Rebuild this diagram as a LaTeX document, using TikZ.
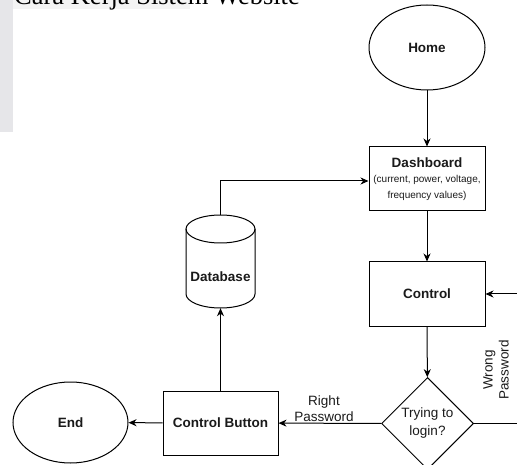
\documentclass[tikz,border=0pt]{standalone}
\usepackage{fontspec}
\setmainfont{Liberation Sans}
\newfontfamily\titlefont{Liberation Serif}
\usetikzlibrary{shapes.geometric,arrows.meta}
\definecolor{barGray}{HTML}{E6E6E9}
\definecolor{bandGray}{HTML}{F4F4F4}
\definecolor{txt}{HTML}{1A1A1A}
\begin{document}
\begin{tikzpicture}[x=1pt,y=-1pt,
  conn/.style={line width=1pt, -{Stealth[length=8pt,width=7pt,inset=2.5pt]}},
  plain/.style={line width=1pt},
  box/.style={draw, line width=1pt, rectangle, minimum width=116pt, minimum height=64pt, inner sep=0pt, align=center, text=txt, font=\bfseries\fontsize{13.5}{16}\selectfont},
  oval/.style={draw, line width=1pt, ellipse, minimum width=116pt, minimum height=85pt, inner sep=0pt, text=txt, font=\bfseries\fontsize{13.5}{16}\selectfont},
  lbl/.style={font=\fontsize{13.5}{16}\selectfont, text=txt, align=center, inner sep=0pt},
]
\useasboundingbox (0,0) rectangle (517,465);
\clip (0,0) rectangle (517,465);
\fill[barGray] (0,0) rectangle (13,132);
\fill[bandGray] (13,0) rectangle (190,9);
\node[anchor=base west, inner sep=0pt, font=\titlefont\fontsize{26.5}{30}\selectfont] (title) at (14,5) {Cara Kerja Sistem Website};

\node[oval] (home) at (427,47.5) {Home};
\node[box] (dash) at (427,179) {Dashboard\\[-1pt]\mdseries\fontsize{10}{17.5}\selectfont (current, power, voltage,\\\mdseries\fontsize{10}{17.5}\selectfont frequency values)};
\node[box] (ctrl) at (427,294) {Control};
\node[draw, diamond, line width=1pt, minimum width=92pt, minimum height=92pt, inner sep=0pt, lbl, font=\fontsize{13.5}{18}\selectfont] (login) at (427.5,423.5) {Trying to\\login?};
\node[box, minimum width=115pt] (cbtn) at (220.5,423) {Control Button};
\node[oval, minimum width=115pt, minimum height=81pt] (end) at (70.5,422.5) {End};

\node[minimum width=69pt, minimum height=93pt, inner sep=0pt] (db) at (220.5,261.5) {};
\draw[plain] (186,229) -- (186,294) arc[start angle=180, end angle=360, x radius=34.5pt, y radius=14pt] -- (255,229);
\draw[plain] (220.5,229) ellipse [x radius=34.5pt, y radius=14pt];
\node[font=\bfseries\fontsize{13.5}{16}\selectfont, text=txt, inner sep=0pt] (dbtext) at (220.5,277) {Database};

\draw[conn] (home) -- (dash);
\draw[conn] (dash) -- (ctrl);
\draw[conn] (ctrl) -- (login);
\draw[conn] (login) -- (cbtn);
\draw[conn] (cbtn) -- (end);
\draw[conn] (cbtn) -- (db);
\draw[conn] (db.north) |- ([yshift=-2pt]dash.west);
\coordinate (wr1) at (540,423.5);
\coordinate (wr2) at (540,294);
\draw[conn] (login.east) -- (wr1) -- (wr2) -- (ctrl.east);

\node[lbl] (rp) at (324,409) {Right\\Password};
\node[lbl, rotate=90] (wp) at (496,370) {Wrong\\Password};
\end{tikzpicture}
\end{document}
